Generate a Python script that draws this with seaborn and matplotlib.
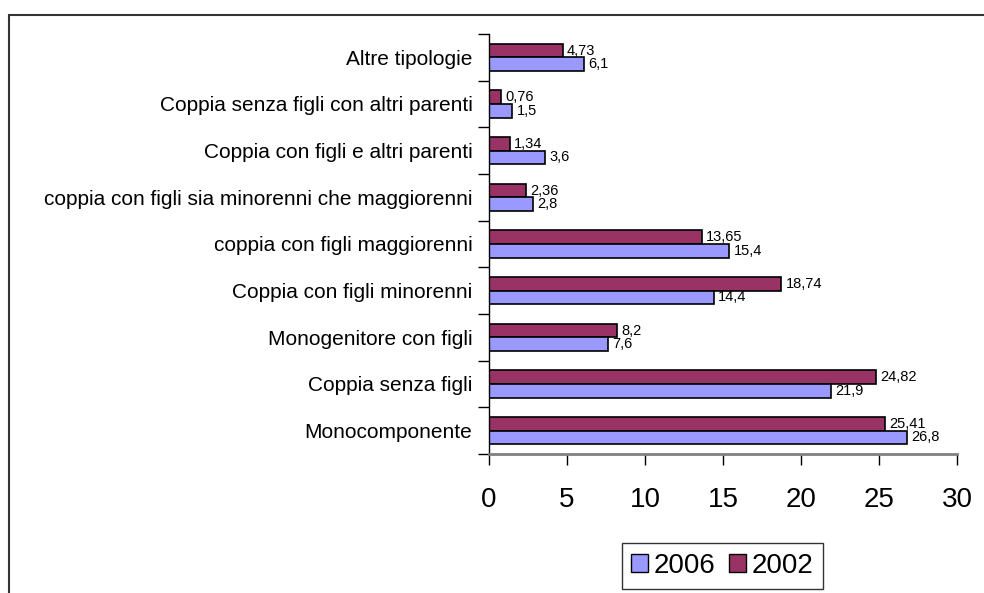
import pandas as pd
import matplotlib.pyplot as plt
import seaborn as sns
from matplotlib.patches import Rectangle, Patch
from matplotlib.ticker import FixedLocator

# Data (percent of households by type)
categories = [
    "Altre tipologie",
    "Coppia senza figli con altri parenti",
    "Coppia con figli e altri parenti",
    "coppia con figli sia minorenni che maggiorenni",
    "coppia con figli maggiorenni",
    "Coppia con figli minorenni",
    "Monogenitore con figli",
    "Coppia senza figli",
    "Monocomponente",
]
values_2002 = [4.73, 0.76, 1.34, 2.36, 13.65, 18.74, 8.2, 24.82, 25.41]
values_2006 = [6.1, 1.5, 3.6, 2.8, 15.4, 14.4, 7.6, 21.9, 26.8]
labels_2002 = ["4,73", "0,76", "1,34", "2,36", "13,65", "18,74", "8,2", "24,82", "25,41"]
labels_2006 = ["6,1", "1,5", "3,6", "2,8", "15,4", "14,4", "7,6", "21,9", "26,8"]
x_ticks = [0, 5, 10, 15, 20, 25, 30]

colors = {"2002": "#993366", "2006": "#9999FF"}

df = pd.DataFrame({
    "tipologia": categories * 2,
    "valore": values_2002 + values_2006,
    "anno": ["2002"] * len(categories) + ["2006"] * len(categories),
})

sns.set_style("white")
plt.rcParams["font.family"] = ["Liberation Sans", "DejaVu Sans"]
plt.rcParams["text.color"] = "black"
plt.rcParams["xtick.color"] = "black"
plt.rcParams["ytick.color"] = "black"
plt.rcParams["axes.labelcolor"] = "black"

fig = plt.figure(figsize=(9.84, 5.93), dpi=100)
ax = fig.add_axes([0.497, 0.2344, 0.4756, 0.7083])

sns.barplot(data=df, x="valore", y="tipologia", hue="anno",
            order=categories, hue_order=["2002", "2006"],
            palette=colors, orient="h", width=0.58, saturation=1,
            edgecolor="black", linewidth=1.2, legend=False, ax=ax)

# value labels at bar ends
for container, labs in zip(ax.containers, [labels_2002, labels_2006]):
    ax.bar_label(container, labels=labs, padding=3, fontsize=10.5, color="black")

ax.set_xlim(0, 30)
ax.set_ylim(len(categories) - 0.5, -0.5)
ax.set_xticks(x_ticks)
ax.set_xlabel("")
ax.set_ylabel("")

# axes styling like the old spreadsheet chart
for s in ["top", "right"]:
    ax.spines[s].set_visible(False)
ax.spines["left"].set_color("black")
ax.spines["left"].set_linewidth(1.0)
ax.spines["bottom"].set_color("#808080")
ax.spines["bottom"].set_linewidth(2.0)

ax.tick_params(axis="x", direction="out", length=8, width=1, color="black",
               labelsize=20, pad=16, bottom=True, labelcolor="black")
ax.tick_params(axis="y", which="major", length=0, labelsize=15, pad=12,
               labelcolor="black")
ax.yaxis.set_minor_locator(FixedLocator([i - 0.5 for i in range(len(categories) + 1)]))
ax.tick_params(axis="y", which="minor", direction="out", length=8, width=1,
               color="black", left=True)

# legend below the plot
handles = [Patch(facecolor=colors["2006"], edgecolor="black", label="2006"),
           Patch(facecolor=colors["2002"], edgecolor="black", label="2002")]
leg = fig.legend(handles=handles, loc="center", bbox_to_anchor=(0.734, 0.0455),
                 ncol=2, fontsize=20, frameon=True, fancybox=False,
                 handlelength=0.6, handleheight=0.6, handletextpad=0.2,
                 columnspacing=0.5, borderpad=0.35)
leg.get_frame().set_edgecolor("black")
leg.get_frame().set_linewidth(1.0)

# outer chart border (cut off at right/bottom like the source)
fig.patches.append(Rectangle((9 / 984, -0.1), 1.2, 1.1 - 15 / 593,
                             transform=fig.transFigure, fill=False,
                             edgecolor="#333333", linewidth=1.5))

plt.savefig("out.png", dpi=100)
